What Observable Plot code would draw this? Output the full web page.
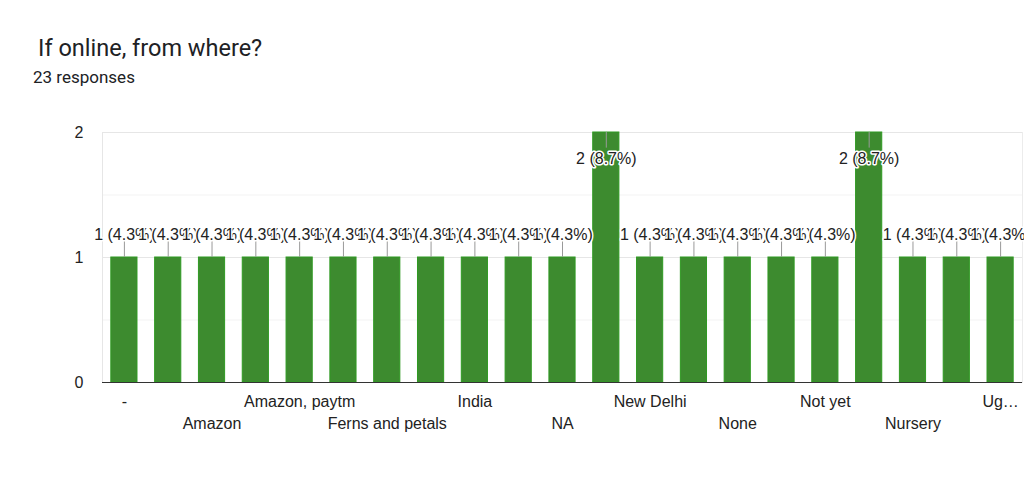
<!DOCTYPE html>
<html>
<head>
<meta charset="utf-8">
<script src="https://cdn.jsdelivr.net/npm/d3@7"></script>
<script src="https://cdn.jsdelivr.net/npm/@observablehq/plot@0.6"></script>
<style>
  html, body { margin: 0; padding: 0; background: #fff; }
  #wrap { position: relative; width: 1024px; height: 487px; overflow: hidden; }
  #head { height: 110px; position: relative; }
  #title { position: absolute; left: 38px; top: 34px; font-family: Roboto, "Open Sans", sans-serif; font-size: 23.5px; color: #202124; }
  #sub { position: absolute; left: 33px; top: 67px; font-family: Roboto, "Open Sans", sans-serif; font-size: 17px; color: #202124; }
  svg { display: block; }
</style>
</head>
<body>
<div id="wrap">
  <div id="head">
    <div id="title">If online, from where?</div>
    <div id="sub">23 responses</div>
  </div>
  <div id="chart"></div>
</div>
<script>
const categories = ["-", "Agri store", "Amazon", "Amazon, Flipkart", "Amazon, paytm", "Facebook", "Ferns and petals",
  "Flipkart", "India", "Instagram", "NA", "Nearby nursery", "New Delhi", "No", "None", "Not applicable",
  "Not yet", "Nothing", "Nursery", "Online", "Ugaoo"];
const counts = [1, 1, 1, 1, 1, 1, 1, 1, 1, 1, 1, 2, 1, 1, 1, 1, 1, 2, 1, 1, 1];
const totalResponses = 23;
const yTicks = [0, 1, 2];
const tickLabels = categories.map((c, i) => i === categories.length - 1 ? "Ug…" : c);

const maxV = d3.max(counts);
const data = categories.map((c, i) => ({
  cat: c,
  v: counts[i],
  label: `${counts[i]} (${(counts[i] / totalResponses * 100).toFixed(1)}%)`,
  top: counts[i] === maxV
}));
const fmt = d => tickLabels[categories.indexOf(d)];
const font = "Liberation Sans, Arial, sans-serif";
const fs = 16;

const chart = Plot.plot({
  width: 1024,
  height: 377,
  marginLeft: 102,
  marginRight: 2,
  marginTop: 22,
  marginBottom: 105,
  style: { fontFamily: font, fontSize: fs + "px", color: "#222" },
  x: { domain: categories, paddingInner: 0.38, paddingOuter: 0.19, round: false, axis: null },
  y: { domain: [0, 2], axis: null },
  marks: [
    Plot.gridY([0.5, 1.5], { stroke: "#f3f3f3", strokeOpacity: 1 }),
    Plot.gridY([1, 2], { stroke: "#e6e6e6", strokeOpacity: 1 }),
    Plot.frame({ anchor: "left", stroke: "#e6e6e6" }),
    Plot.frame({ anchor: "right", stroke: "#ececec" }),
    Plot.barY(data, { x: "cat", y: "v", fill: "#3d8b2f", stroke: "#2f9a22", strokeWidth: 1, insetLeft: 0.5, insetRight: 0.5 }),
    Plot.ruleY([0], { stroke: "#333" }),
    Plot.ruleX(data, {
      x: "cat",
      y1: "v",
      y2: d => d.top ? d.v - 0.125 : d.v + 0.135,
      stroke: "#999", strokeWidth: 1
    }),
    Plot.text(data, {
      x: "cat", y: "v", text: "label",
      fill: "#222", stroke: "white", strokeWidth: 3, fontSize: fs,
      lineAnchor: "middle", filter: d => !d.top, dy: -23
    }),
    Plot.text(data, {
      x: "cat", y: "v", text: "label",
      fill: "#222", stroke: "white", strokeWidth: 3, fontSize: fs,
      lineAnchor: "middle", filter: d => d.top, dy: 26
    }),
    Plot.axisY(yTicks, { tickSize: 0, tickPadding: 19, tickFormat: d3.format("d"), fontSize: fs, fill: "#222", label: null }),
    Plot.axisX(categories.filter((d, i) => i % 4 === 0), { tickSize: 0, tickPadding: 13, tickFormat: fmt, fontSize: fs, fill: "#222", label: null }),
    Plot.axisX(categories.filter((d, i) => i % 4 === 2), { tickSize: 0, tickPadding: 35, tickFormat: fmt, fontSize: fs, fill: "#222", label: null })
  ]
});
document.getElementById("chart").appendChild(chart);
</script>
</body>
</html>
